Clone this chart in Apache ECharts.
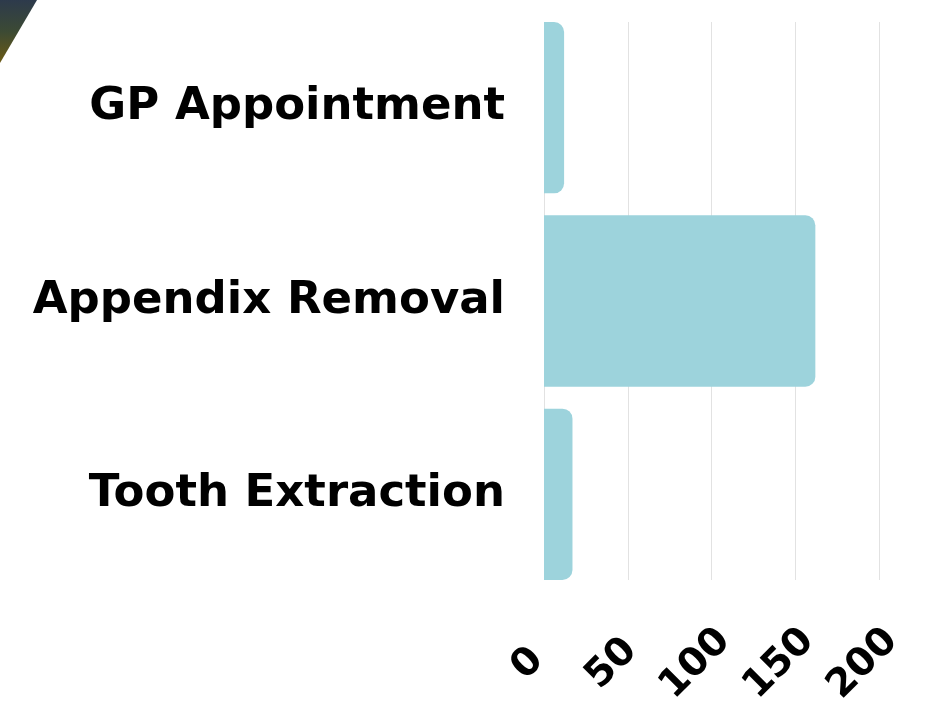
<!DOCTYPE html>
<html>
<head>
<meta charset="utf-8">
<script src="https://cdn.jsdelivr.net/npm/echarts@6/dist/echarts.min.js"></script>
<style>html,body{margin:0;padding:0;background:#fff;}#c{width:941px;height:713px;}</style>
</head>
<body>
<div id="c"></div>
<script>
const categories = ['GP Appointment', 'Appendix Removal', 'Tooth Extraction'];
const values = [12, 162, 17];
const xTicks = [0, 50, 100, 150, 200];

const FONT = 'DejaVu Sans';
const xMin = xTicks[0], xMax = xTicks[xTicks.length - 1], xStep = xTicks[1] - xTicks[0];

const chart = echarts.init(document.getElementById('c'));
chart.setOption({
  animation: false,
  graphic: [{
    type: 'polygon',
    shape: { points: [[0, 0], [37, 0], [0, 63]] },
    style: {
      fill: new echarts.graphic.LinearGradient(0, 0, 0, 1, [
        { offset: 0, color: '#2d3a4c' },
        { offset: 0.5, color: '#3c4a34' },
        { offset: 1, color: '#6b5a14' }
      ])
    }
  }],
  grid: [
    { left: 544, right: 62, top: 22, bottom: 133 },   // gridlines
    { left: 544, right: 62, top: 11, bottom: 122 },   // bars
    { left: 528, right: 78, top: 22, bottom: 133 }    // tick labels
  ],
  xAxis: [{
    gridIndex: 0, type: 'value', min: xMin, max: xMax, interval: xStep,
    axisLine: { show: false }, axisTick: { show: false }, axisLabel: { show: false },
    splitLine: { show: true, lineStyle: { color: '#e2e2e2', width: 1 } }
  }, {
    gridIndex: 1, type: 'value', min: xMin, max: xMax, interval: xStep,
    axisLine: { show: false }, axisTick: { show: false }, axisLabel: { show: false },
    splitLine: { show: false }
  }, {
    gridIndex: 2, type: 'value', min: xMin, max: xMax, interval: xStep,
    axisLine: { show: false }, axisTick: { show: false },
    splitLine: { show: false },
    axisLabel: {
      rotate: 45,
      align: 'center',
      verticalAlign: 'middle',
      margin: 84,
      color: '#000',
      fontFamily: FONT,
      fontWeight: 'bold',
      fontSize: 39
    }
  }],
  yAxis: [{
    gridIndex: 0, type: 'category', data: categories, inverse: true, show: false
  }, {
    gridIndex: 1, type: 'category', data: categories, inverse: true,
    axisLine: { show: false }, axisTick: { show: false },
    axisLabel: {
      margin: 39,
      padding: [6, 0, 0, 0],
      color: '#000',
      fontFamily: FONT,
      fontWeight: 'bold',
      fontSize: 45
    }
  }, {
    gridIndex: 2, type: 'category', data: categories, inverse: true, show: false
  }],
  series: [{
    type: 'bar',
    xAxisIndex: 1,
    yAxisIndex: 1,
    data: values,
    barCategoryGap: '11.4%',
    itemStyle: { color: '#9dd3dc', borderRadius: [0, 10, 10, 0] }
  }]
});
</script>
</body>
</html>
